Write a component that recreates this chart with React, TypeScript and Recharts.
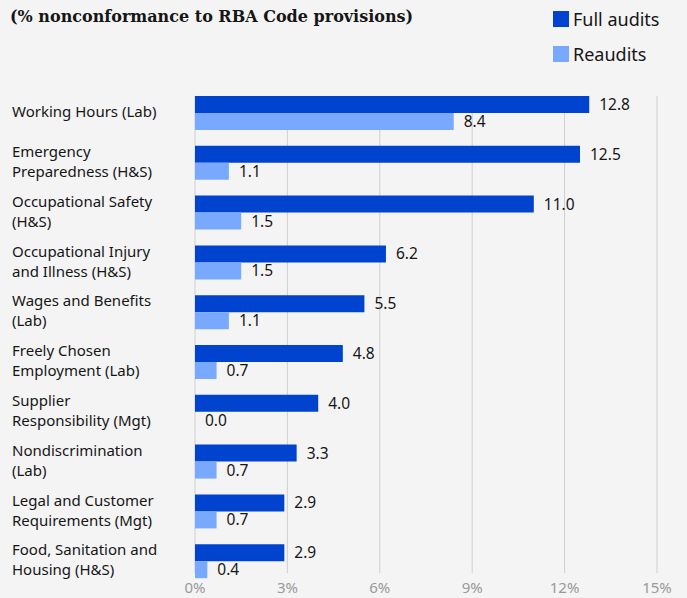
import { Bar, BarChart, CartesianGrid, LabelList, XAxis, YAxis } from "recharts";

const categories = [
  "Working Hours (Lab)",
  "Emergency\nPreparedness (H&S)",
  "Occupational Safety\n(H&S)",
  "Occupational Injury\nand Illness (H&S)",
  "Wages and Benefits\n(Lab)",
  "Freely Chosen\nEmployment (Lab)",
  "Supplier\nResponsibility (Mgt)",
  "Nondiscrimination\n(Lab)",
  "Legal and Customer\nRequirements (Mgt)",
  "Food, Sanitation and\nHousing (H&S)",
];
const fullAudits = [12.8, 12.5, 11.0, 6.2, 5.5, 4.8, 4.0, 3.3, 2.9, 2.9];
const reaudits = [8.4, 1.1, 1.5, 1.5, 1.1, 0.7, 0.0, 0.7, 0.7, 0.4];
const xTicks = [0, 3, 6, 9, 12, 15];
const seriesNames = ["Full audits", "Reaudits"];

const FULL = "#0043ce";
const RE = "#78a9ff";
const BG = "#f4f4f4";
const SANS = "'Noto Sans', sans-serif";

const data = categories.map((c, i) => ({ name: c, full: fullAudits[i], re: reaudits[i] }));

function CategoryTick(props: any) {
  const { y, payload } = props;
  const lines = String(payload.value).split("\n");
  const start = y - ((lines.length - 1) * 20) / 2 - 1;
  return (
    <g>
      {lines.map((l, i) => (
        <text key={i} x={12} y={start + i * 20} dy="0.35em" textAnchor="start" fontSize={15} fill="#161616" fontFamily={SANS}>
          {l}
        </text>
      ))}
    </g>
  );
}

function PctTick(props: any) {
  const { x, y, payload } = props;
  return (
    <text x={x} y={y + 2} dy="0.35em" textAnchor="middle" fontSize={15} fill="#999999" fontFamily={SANS}>
      {`${payload.value}%`}
    </text>
  );
}

function GridLine(props: any) {
  const { x1, x2, y1, y2 } = props;
  return <line key={props.key ?? `g-${x1}`} x1={x1} x2={x2} y1={y1 + 8} y2={y2 - 13} stroke="#cfcfcf" strokeWidth={1} />;
}

const zeroMin = (v: any) => (Number(v) === 0 ? 0.01 : 0);

export default function App() {
  return (
    <div style={{ position: "relative", width: 687, height: 598, background: BG, overflow: "hidden" }}>
      <style>{`body{margin:0;background:${BG}}`}</style>
      <div
        style={{
          position: "absolute",
          left: 10,
          top: 7,
          fontFamily: "'DejaVu Serif', serif",
          fontWeight: "bold",
          fontSize: 16,
          color: "#161616",
          whiteSpace: "nowrap",
        }}
      >
        (% nonconformance to RBA Code provisions)
      </div>
      <div style={{ position: "absolute", left: 553, top: 1, fontFamily: SANS, fontSize: 18, color: "#161616" }}>
        {seriesNames.map((n, i) => (
          <div key={n} style={{ display: "flex", alignItems: "center", height: 35 }}>
            <span style={{ width: 16, height: 16, background: i === 0 ? FULL : RE, marginRight: 4, display: "inline-block" }} />
            <span>{n}</span>
          </div>
        ))}
      </div>
      <BarChart
        width={687}
        height={598}
        data={data}
        layout="vertical"
        margin={{ top: 88, right: 30, bottom: 0, left: 0 }}
        barGap={0}
        barSize={17}
        style={{ position: "absolute", left: 0, top: 0 }}
      >
        <CartesianGrid horizontal={false} vertical={GridLine} />
        <XAxis
          type="number"
          domain={[0, 15]}
          ticks={xTicks}
          axisLine={false}
          tickLine={false}
          tickSize={0}
          tickMargin={0}
          height={12}
          tick={PctTick}
          interval={0}
        />
        <YAxis
          type="category"
          dataKey="name"
          width={195}
          axisLine={false}
          tickLine={false}
          tick={CategoryTick}
          interval={0}
        />
        <Bar dataKey="full" name={seriesNames[0]} fill={FULL} isAnimationActive={false}>
          <LabelList
            dataKey="full"
            position="right"
            offset={10}
            formatter={(v: any) => Number(v).toFixed(1)}
            style={{ fontFamily: SANS, fontSize: 15.5, fill: "#161616" }}
          />
        </Bar>
        <Bar dataKey="re" name={seriesNames[1]} fill={RE} minPointSize={zeroMin} isAnimationActive={false}>
          <LabelList
            dataKey="re"
            position="right"
            offset={10}
            formatter={(v: any) => Number(v).toFixed(1)}
            style={{ fontFamily: SANS, fontSize: 15.5, fill: "#161616" }}
          />
        </Bar>
      </BarChart>
    </div>
  );
}
